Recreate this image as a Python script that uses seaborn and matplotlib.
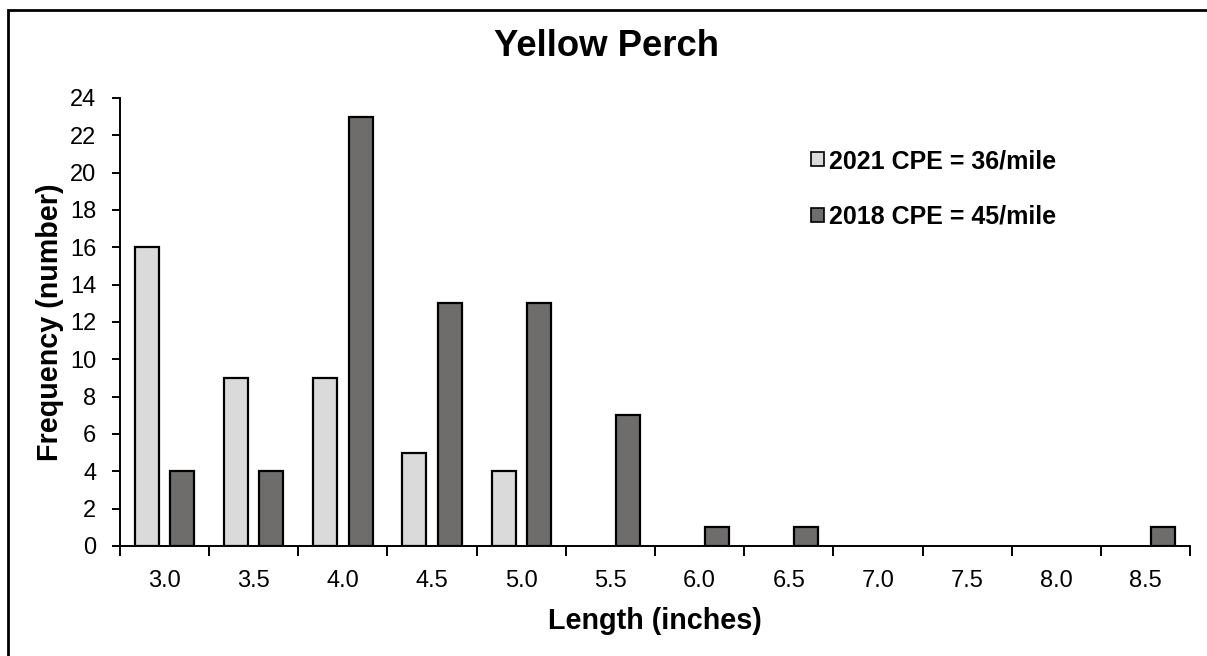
import matplotlib
matplotlib.use("Agg")
import matplotlib.pyplot as plt
import seaborn as sns
import pandas as pd
from matplotlib.patches import Rectangle, Patch

lengths = ["3.0", "3.5", "4.0", "4.5", "5.0", "5.5", "6.0", "6.5", "7.0", "7.5", "8.0", "8.5"]
freq_2021 = [16, 9, 9, 5, 4, 0, 0, 0, 0, 0, 0, 0]
freq_2018 = [4, 4, 23, 13, 13, 7, 1, 1, 0, 0, 0, 1]
series_labels = ["2021 CPE = 36/mile", "2018 CPE = 45/mile"]
colors = ["#DADADA", "#6F6C6C"]
y_ticks = list(range(0, 25, 2))

sns.set_theme(style="white")
plt.rcParams['font.family'] = ['Liberation Sans', 'DejaVu Sans']
plt.rcParams['text.color'] = 'black'
plt.rcParams['axes.labelcolor'] = 'black'
plt.rcParams['xtick.color'] = 'black'
plt.rcParams['ytick.color'] = 'black'

df = pd.DataFrame({
    "Length": lengths * 2,
    "Frequency": freq_2021 + freq_2018,
    "Series": [series_labels[0]] * len(lengths) + [series_labels[1]] * len(lengths),
})

fig = plt.figure(figsize=(12.07, 6.56), dpi=100)
ax = fig.add_axes([120 / 1207, 1 - 546 / 656, (1190 - 120) / 1207, (546 - 98) / 656])

sns.barplot(data=df, x="Length", y="Frequency", hue="Series", order=lengths,
            hue_order=series_labels, palette=colors, width=0.79, gap=0.32,
            edgecolor="black", linewidth=1.6, ax=ax, legend=False, saturation=1)

for p in ax.patches:
    if p.get_height() == 0:
        p.set_edgecolor("none")

ax.set_xlim(-0.5, len(lengths) - 0.5)
ax.set_ylim(0, 24)
ax.set_yticks(y_ticks)
ax.set_yticklabels([str(t) for t in y_ticks], fontsize=17)
ax.set_xticks(range(len(lengths)))
ax.set_xticklabels(lengths, fontsize=17)
ax.tick_params(axis="x", which="major", length=0, pad=17)
ax.set_xticks([i - 0.5 for i in range(len(lengths) + 1)], minor=True)
ax.tick_params(axis="x", which="minor", length=7, width=1.4, color="black", direction="out", bottom=True)
ax.tick_params(axis="y", length=6, width=1.4, color="black", direction="out", left=True, pad=11)

for s in ["top", "right"]:
    ax.spines[s].set_visible(False)
for s in ["left", "bottom"]:
    ax.spines[s].set_color("black")
    ax.spines[s].set_linewidth(1.4)

ax.set_xlabel("Length (inches)", fontsize=20.7, fontweight="bold", labelpad=11)
ax.set_ylabel("Frequency (number)", fontsize=20.7, fontweight="bold", labelpad=4)
fig.text(606 / 1207, 1 - 46 / 656, "Yellow Perch", fontsize=26.3, fontweight="bold",
         ha="center", va="center")

handles = [Patch(facecolor=c, edgecolor="black", linewidth=1.2) for c in colors]
leg = ax.legend(handles, series_labels, loc="upper left", bbox_to_anchor=(0.646, 0.886),
                frameon=False, prop={"weight": "bold", "size": 18},
                handlelength=0.5, handleheight=0.5, handletextpad=0.2, labelspacing=1.26,
                borderaxespad=0, borderpad=0)

fig.add_artist(Rectangle((8 / 1207, -0.05), 1.2, 1 - 10 / 656 + 0.05,
                         transform=fig.transFigure, fill=False, edgecolor="black",
                         linewidth=2, clip_on=False))

fig.savefig("out.png", dpi=100)
